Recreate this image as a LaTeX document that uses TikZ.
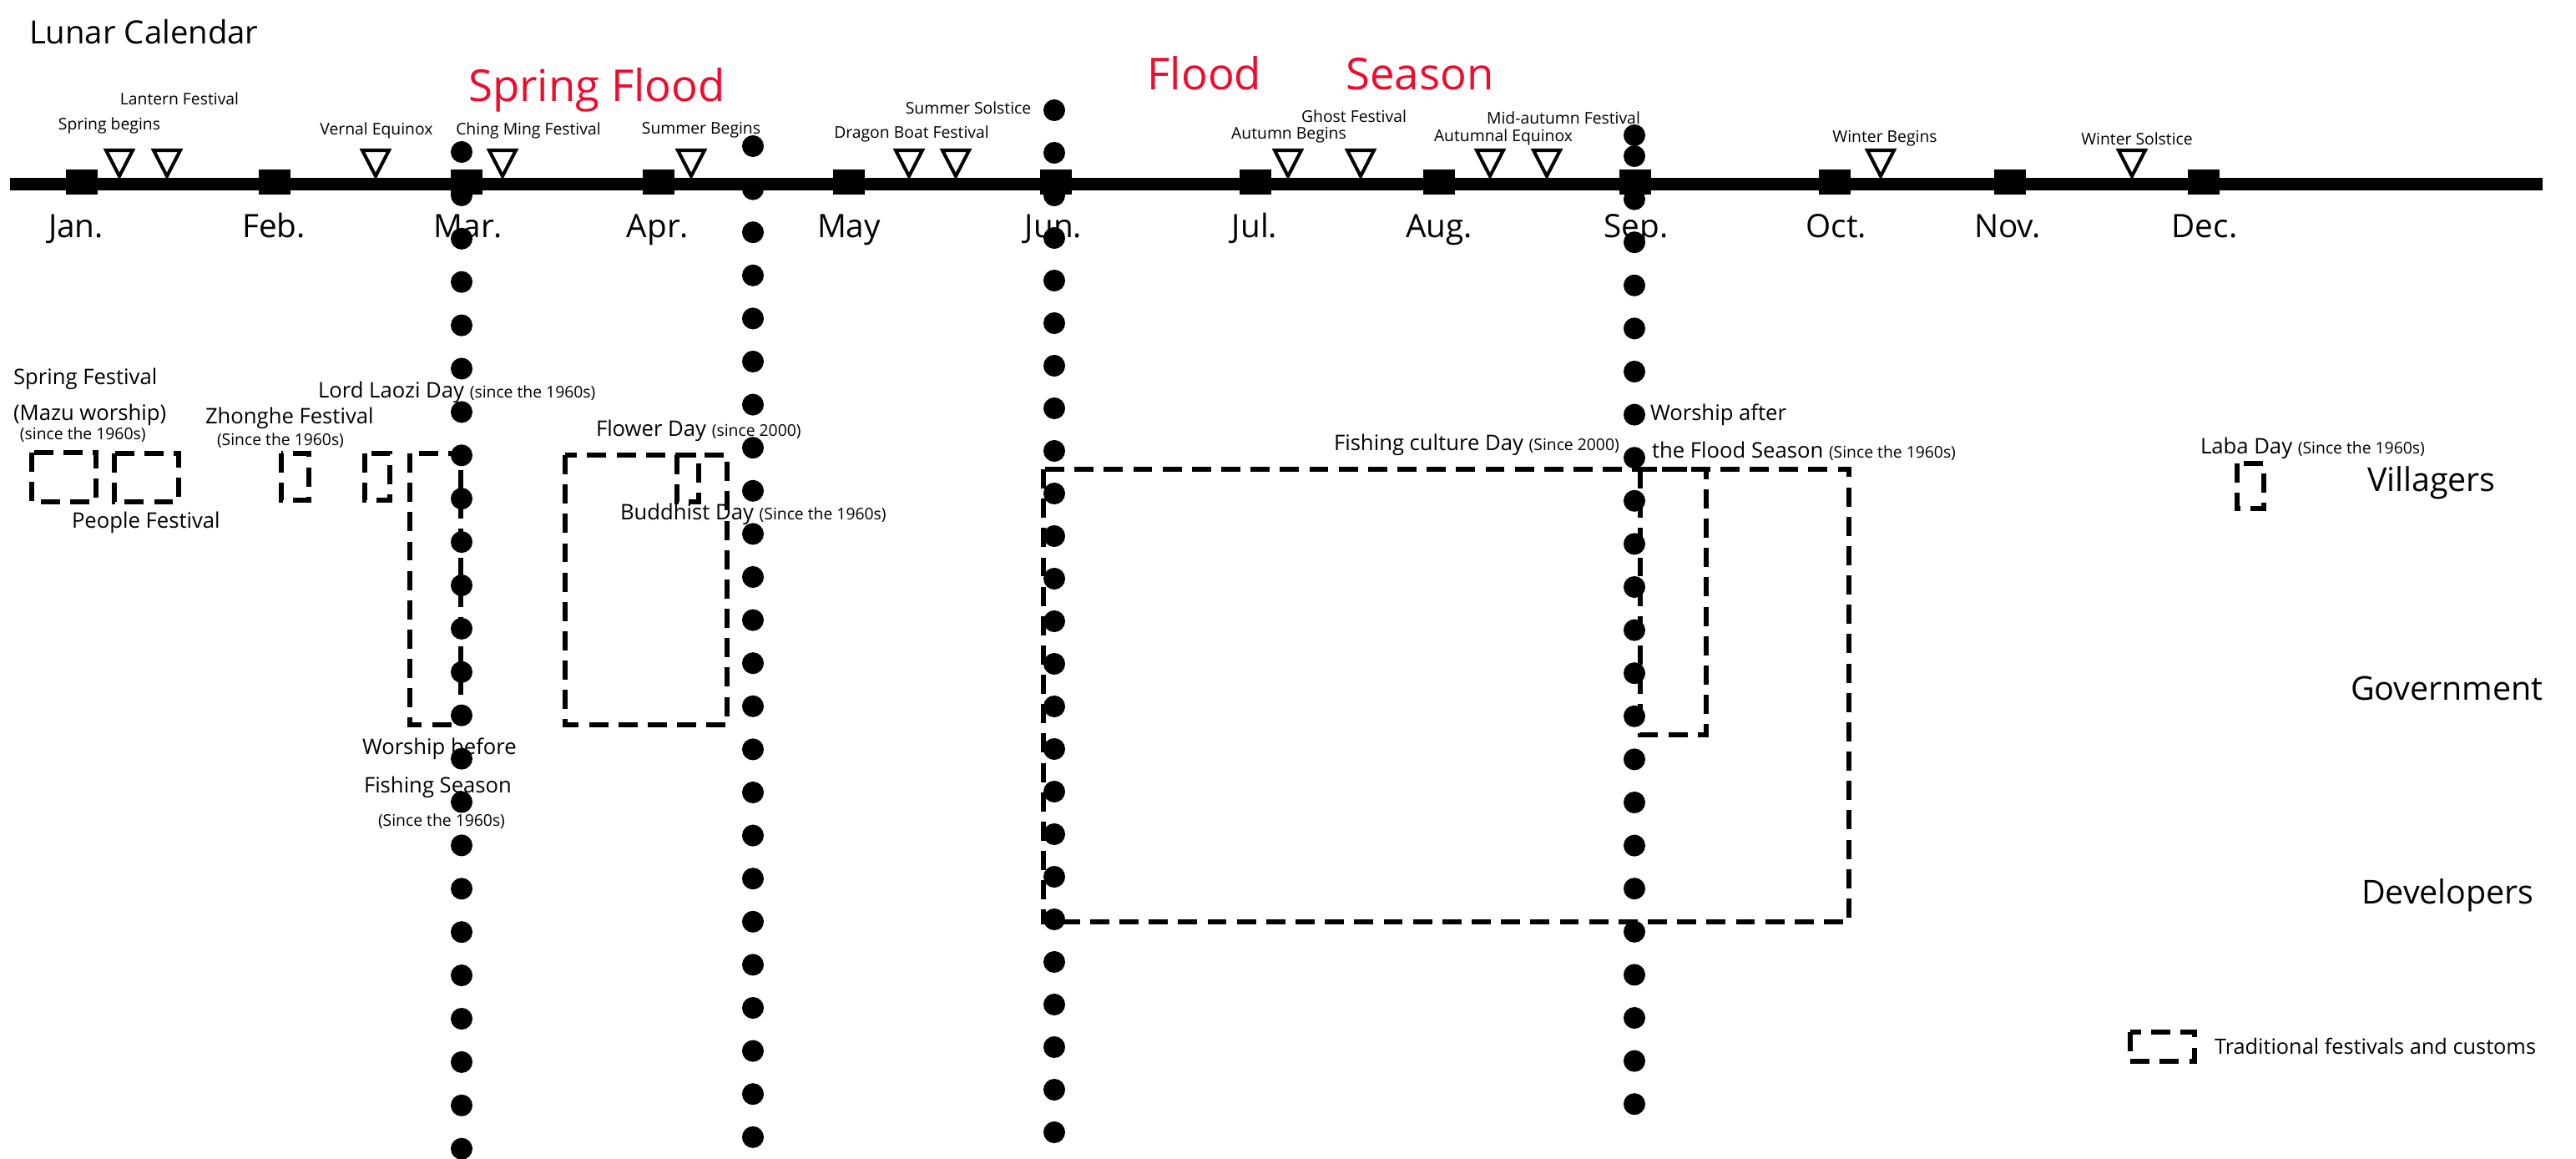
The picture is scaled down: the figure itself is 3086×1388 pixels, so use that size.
\documentclass[tikz,border=0pt]{standalone}
\usepackage{fontspec}
\setmainfont{Open Sans}
\definecolor{floodred}{RGB}{237,12,45}
\newcommand{\myfs}[1]{\fontsize{#1}{#1}\selectfont}
\begin{document}
\begin{tikzpicture}[x=0.01cm,y=-0.01cm,
  txt/.style={inner sep=0pt,outer sep=0pt},
  tl/.style={txt,font=\myfs{5.5pt}},
  mid/.style={txt,font=\myfs{7.3pt},anchor=base west},
  small/.style={txt,font=\myfs{5.5pt},anchor=base west},
  month/.style={txt,font=\myfs{11pt},anchor=base},
  actor/.style={txt,font=\myfs{11.2pt},anchor=base west},
  redlab/.style={txt,font=\myfs{15pt},text=floodred,anchor=base},
  dbox/.style={draw,line width=1.7pt,dash pattern=on 6.5pt off 3.5pt},
  tri/.style={draw,line width=1.15pt,fill=white,line join=miter},
  bigdot/.style={fill=black}
]
\useasboundingbox (0,0) rectangle (3086,1388);
\clip (0,0) rectangle (3086,1388);

% ---------- titles ----------
\node[txt,font=\myfs{10.9pt},anchor=base west] (title) at (35,53) {Lunar Calendar};
\node[redlab] (springflood) at (715,122) {Spring Flood};
\node[redlab] (flood) at (1443,108) {Flood};
\node[redlab] (season) at (1701,108) {Season};

% ---------- month labels ----------
\foreach \x/\t/\n in {91/Jan./1,328/Feb./2,561/Mar./3,788/Apr./4,1017/May/5,1262/Jun./6,1503/Jul./7,1724/Aug./8,1960/Sep./9,2200/Oct./10,2405/Nov./11,2641/Dec./12}
  \node[month] (month\n) at (\x,285) {\t};

% ---------- solar term / festival labels ----------
\node[tl] (lspring) at (131,150) {Spring begins};
\node[tl] (llantern) at (215,118) {Lantern Festival};
\node[tl] (lvernal) at (451,156) {Vernal Equinox};
\node[tl] (lching) at (633,156) {Ching Ming Festival};
\node[tl] (lsummer) at (840,156) {Summer Begins};
\node[tl] (ldragon) at (1092,160) {Dragon Boat Festival};
\node[tl] (lsolstice) at (1160,129) {Summer Solstice};
\node[tl] (lautumn) at (1544,162) {Autumn Begins};
\node[tl] (lghost) at (1622,139) {Ghost Festival};
\node[tl] (lautequ) at (1801,164) {Autumnal Equinox};
\node[tl] (lmid) at (1873,141) {Mid-autumn Festival};
\node[tl] (lwinter) at (2258,166) {Winter Begins};
\node[tl] (lwsol) at (2560,166) {Winter Solstice};

% ---------- festival texts ----------
\node[mid] (tspring) at (16,460) {Spring Festival};
\node[mid] (tmazu) at (16,503) {(Mazu worship)};
\node[small] (tmazus) at (24,527) {(since the 1960s)};
\node[mid] (tpeople) at (86,633) {People Festival};
\node[mid] (tzhong) at (246,508) {Zhonghe Festival};
\node[small] (tzhongs) at (260,534) {(Since the 1960s)};
\node[mid] (tlaozi) at (381,477) {Lord Laozi Day {\myfs{5.5pt}(since the 1960s)}};
\node[mid] (tflower) at (714,522) {Flower Day {\myfs{5.5pt}(since 2000)}};
\node[mid] (tbuddh) at (743,622) {Buddhist Day {\myfs{5.5pt}(Since the 1960s)}};
\node[mid] (twb1) at (434,903) {Worship before};
\node[mid] (twb2) at (436,949) {Fishing Season};
\node[small] (twb3) at (453,989) {(Since the 1960s)};
\node[mid] (tfish) at (1598,540) {Fishing culture Day {\myfs{5.5pt}(Since 2000)}};
\node[mid] (twa1) at (1977,504) {Worship after};
\node[mid] (twa2) at (1979,548) {the Flood Season {\myfs{5.5pt}(Since the 1960s)}};
\node[mid] (tlaba) at (2636,543) {Laba Day {\myfs{5.5pt}(Since the 1960s)}};

% ---------- actors ----------
\node[actor] (villagers) at (2836,588) {Villagers};
\node[actor] (government) at (2816,838) {Government};
\node[actor] (developers) at (2829,1082) {Developers};

% ---------- legend ----------
\node[txt,font=\myfs{7.2pt},anchor=base west] (legend) at (2653,1262) {Traditional festivals and customs};
\draw[dbox] (2552,1236) rectangle (2629,1271);

% ---------- dashed boxes ----------
\draw[dbox] (38,542) rectangle (115,601);
\draw[dbox] (137,543) rectangle (214,601);
\draw[dbox] (337,543) rectangle (370,599);
\draw[dbox] (437,543) rectangle (467,599);
\draw[dbox] (491,543) rectangle (552,868);
\draw[dbox] (677,545) rectangle (871,868);
\draw[dbox] (811,545) rectangle (837,601);
\draw[dbox] (1250,562) rectangle (2215,1104);
\draw[dbox] (1965,562) rectangle (2044,880);
\draw[dbox] (2680,555) rectangle (2712,609);

% ---------- dotted season boundaries ----------
\foreach \k in {0,...,23} \fill[bigdot] (553,{182+51.9*\k}) circle[radius=0.13cm];
\foreach \k in {0,...,23} \fill[bigdot] (902,{175+51.6*\k}) circle[radius=0.13cm];
\foreach \k in {0,...,24} \fill[bigdot] (1263,{132+51*\k}) circle[radius=0.13cm];
\fill[bigdot] (1958,162) circle[radius=0.13cm];
\foreach \k in {0,...,22} \fill[bigdot] (1958,{187+51.6*\k}) circle[radius=0.13cm];

% ---------- timeline ----------
\draw[line width=4.27pt] (12,220.5) -- (3046,220.5);
\foreach \x in {98,329,559,789,1017,1265,1504,1724,1959,2198,2408,2640}
  \fill (\x-19,203) rectangle (\x+19,233);

% ---------- triangles ----------
\foreach \x in {143,200,450,602,828,1089,1145,1543,1630,1785,1853,2253,2554}
  \draw[tri] (\x-16,180) -- (\x+16,180) -- (\x,211) -- cycle;
\end{tikzpicture}
\end{document}
